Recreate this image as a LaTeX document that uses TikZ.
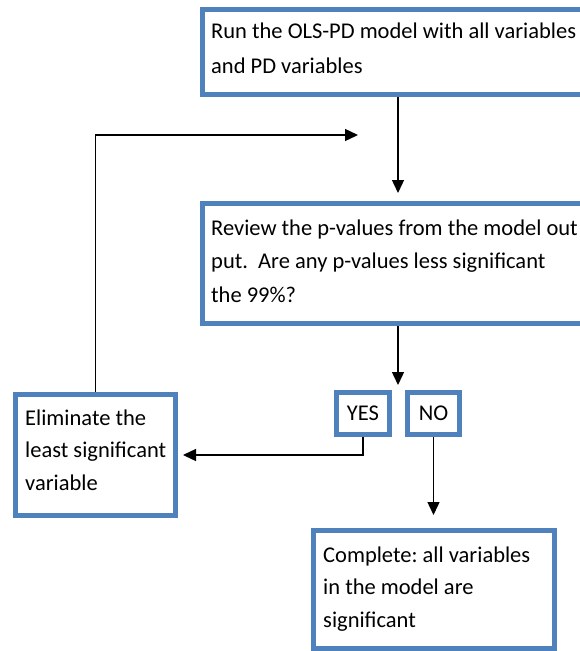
\documentclass[tikz,border=0pt]{standalone}
\usepackage{fontspec}
\setmainfont{Carlito}
\usetikzlibrary{arrows.meta}
\definecolor{boxblue}{HTML}{4F81BD}
\frenchspacing
\tikzset{
  flowbox/.style={draw=boxblue, line width=5pt, rectangle, inner sep=0pt, fill=white},
  txt/.style={anchor=north west, inner sep=0pt, align=left, text=black},
  arr/.style={draw=black, line width=1.4pt, -{Triangle[width=12pt,length=13pt]}},
}
\begin{document}
\begin{tikzpicture}[x=1pt,y=-1pt]
\useasboundingbox[fill=white] (0,0) rectangle (580,651);
\clip (0,0) rectangle (580,651);
% boxes
\node[flowbox, minimum width=395pt, minimum height=85pt] (b1) at (400,52) {};
\node[flowbox, minimum width=395pt, minimum height=120pt] (b2) at (400,263.5) {};
\node[flowbox, minimum width=53pt, minimum height=42pt, font=\fontsize{22.5}{27}\selectfont] (yes) at (363,413.5) {YES};
\node[flowbox, minimum width=52pt, minimum height=42pt, font=\fontsize{22.5}{27}\selectfont] (no) at (433.5,413.5) {NO};
\node[flowbox, minimum width=160pt, minimum height=121pt] (elim) at (95.5,455) {};
\node[flowbox, minimum width=241pt, minimum height=118pt] (comp) at (434,589.5) {};
% texts
\node[txt, font=\fontsize{22.5}{35}\selectfont] (t1) at (211,7) {\rule{0pt}{31pt}Run the OLS-PD model with all variables\\and PD variables};
\node[txt, font=\fontsize{22.5}{33.5}\selectfont] (t2) at (211,201) {\rule{0pt}{34pt}Review the p-values from the model out\\put.\ \ Are any p-values less significant\\the 99\%?};
\node[txt, font=\fontsize{22.5}{32.5}\selectfont] (t3) at (25,392) {\rule{0pt}{33pt}Eliminate the\\least significant\\variable};
\node[txt, font=\fontsize{22.5}{32.5}\selectfont] (t4) at (323,528) {\rule{0pt}{34pt}Complete: all variables\\in the model are\\significant};
% helper coordinates
\coordinate (mid) at (398,0);
\coordinate (split) at (398,385);
\coordinate (loopend) at (358,135);
% connectors
\draw[arr, shorten >=8pt] (b1.south -| mid) -- (b2.north -| mid);
\draw[arr] (b2.south -| mid) -- (split);
\draw[arr, shorten >=5pt] (yes.south) |- (elim.east);
\draw[arr, shorten >=13pt] (no.south) -- (no.south |- comp.north);
\draw[arr] (elim.north) |- (loopend);
\end{tikzpicture}
\end{document}
